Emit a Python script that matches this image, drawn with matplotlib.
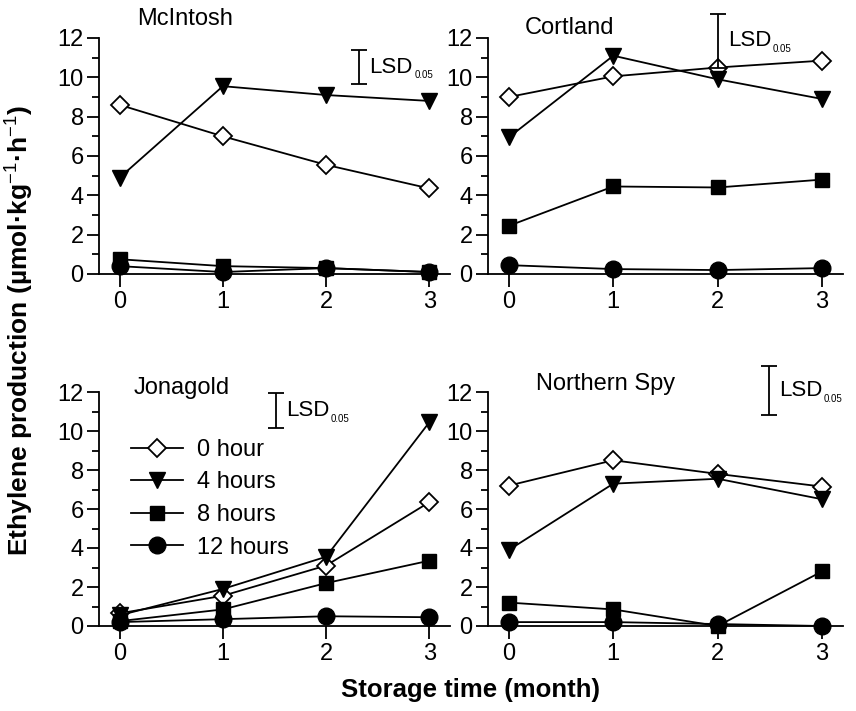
import matplotlib
matplotlib.use("Agg")
import matplotlib.pyplot as plt
from matplotlib.ticker import MultipleLocator

plt.rcParams['font.family'] = ['Liberation Sans', 'DejaVu Sans']
plt.rcParams['mathtext.fontset'] = 'custom'
plt.rcParams['mathtext.rm'] = 'Liberation Sans'
plt.rcParams['mathtext.bf'] = 'Liberation Sans:bold'

months = [0, 1, 2, 3]
series_labels = ['0 hour', '4 hours', '8 hours', '12 hours']

# ethylene production per cultivar, one list per storage-hour series
mcintosh = [[8.6, 7.0, 5.55, 4.35],
            [4.9, 9.55, 9.1, 8.8],
            [0.75, 0.4, 0.3, 0.1],
            [0.4, 0.1, 0.3, 0.1]]
cortland = [[9.0, 10.05, 10.5, 10.85],
            [6.95, 11.1, 9.9, 8.9],
            [2.45, 4.45, 4.4, 4.8],
            [0.45, 0.25, 0.2, 0.3]]
jonagold = [[0.65, 1.55, 3.1, 6.35],
            [0.55, 1.9, 3.55, 10.45],
            [0.25, 0.85, 2.2, 3.35],
            [0.2, 0.35, 0.5, 0.45]]
northern_spy = [[7.2, 8.5, 7.8, 7.15],
                [3.9, 7.3, 7.55, 6.5],
                [1.2, 0.85, 0.0, 2.8],
                [0.2, 0.2, 0.1, 0.0]]

cultivars = ['McIntosh', 'Cortland', 'Jonagold', 'Northern Spy']
panel_data = [mcintosh, cortland, jonagold, northern_spy]

# LSD bars: (x, low, high)
lsd_bars = [(2.32, 9.65, 11.4), (2.0, 10.5, 13.2), (1.51, 10.15, 11.95), (2.49, 10.8, 13.35)]

markers = [dict(marker='D', ms=9, mfc='white', mec='black', mew=1.3),
           dict(marker='v', ms=12, mfc='black', mec='black'),
           dict(marker='s', ms=10, mfc='black', mec='black'),
           dict(marker='o', ms=12, mfc='black', mec='black')]

W, H = 856, 711
fig = plt.figure(figsize=(W / 100, H / 100), dpi=100)

# axes boxes in pixels: left, right, top, bottom
boxes = [(99, 450, 38, 274), (488, 843, 38, 274),
         (99, 450, 392, 626), (488, 843, 392, 626)]
title_pos = [(0.17, 12.95), (0.15, 12.5), (0.14, 12.2), (0.26, 12.4)]

axes = []
for i, (l, r, t, b) in enumerate(boxes):
    ax = fig.add_axes([l / W, 1 - b / H, (r - l) / W, (b - t) / H])
    axes.append(ax)
    ax.set_xlim(-0.2, 3.2)
    ax.set_ylim(0, 12)
    for s in ['top', 'right']:
        ax.spines[s].set_visible(False)
    for s in ['left', 'bottom']:
        ax.spines[s].set_linewidth(1.3)
    ax.set_xticks(months)
    ax.yaxis.set_major_locator(MultipleLocator(2))
    ax.yaxis.set_minor_locator(MultipleLocator(1))
    ax.tick_params(axis='x', length=9, width=1.3, pad=3, labelsize=17)
    ax.tick_params(axis='y', which='major', length=9, width=1.3, pad=2, labelsize=17)
    ax.tick_params(axis='y', which='minor', length=5, width=1.3)

    for vals, lab, mk in zip(panel_data[i], series_labels, markers):
        ax.plot(months, vals, color='black', lw=1.3, label=lab, clip_on=False, **mk)

    tx, ty = title_pos[i]
    ax.text(tx, ty, cultivars[i], fontsize=17, ha='left', va='center')

    x, lo, hi = lsd_bars[i]
    ax.errorbar([x], [(lo + hi) / 2], yerr=[[(hi - lo) / 2], [(hi - lo) / 2]],
                fmt='none', ecolor='black', elinewidth=1.3, capsize=6, capthick=1.3,
                clip_on=False)
    lsd = ax.text(x + 0.1, (lo + hi) / 2, 'LSD', fontsize=16, ha='left', va='center')
    ax.annotate('0.05', xy=(1, 0.1), xycoords=lsd, xytext=(1, 0),
                textcoords='offset points', fontsize=7, ha='left', va='center')

leg = axes[2].legend(loc='upper left', bbox_to_anchor=(0.09, 0.80), frameon=False,
                     fontsize=17, handlelength=2.2, handletextpad=0.6,
                     labelspacing=0.45, borderpad=0, borderaxespad=0)

fig.text(0.022, 0.536, 'Ethylene production (µmol·kg$^{-1}$·h$^{-1}$)',
         rotation=90, ha='center', va='center', fontsize=19, fontweight='bold')
fig.text(0.55, 0.03, 'Storage time (month)', ha='center', va='center',
         fontsize=18.5, fontweight='bold')

fig.savefig('out.png', dpi=100)
